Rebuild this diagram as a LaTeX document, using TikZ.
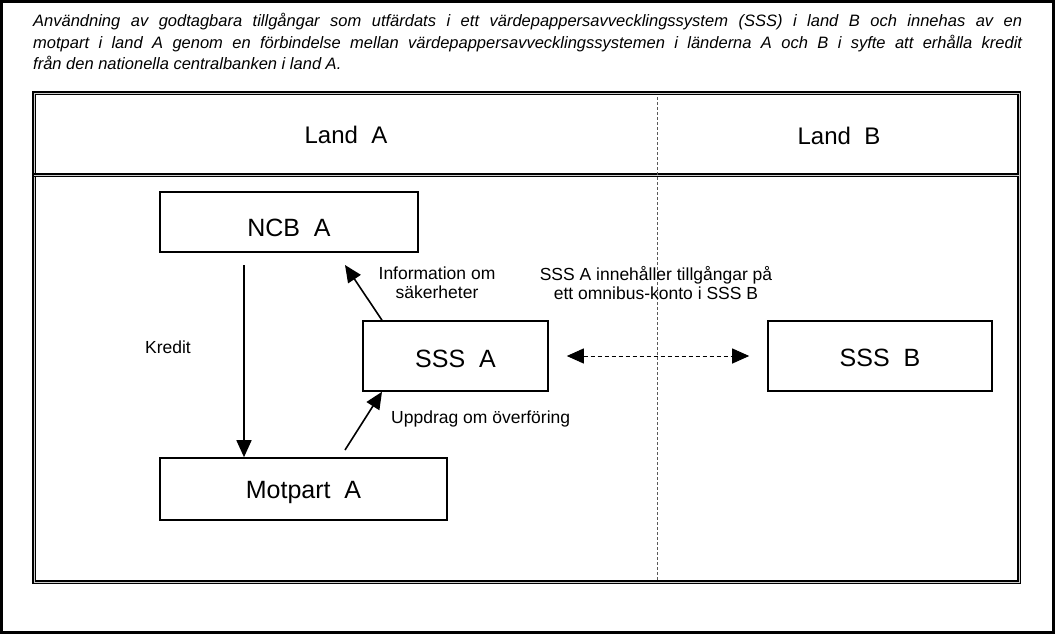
\documentclass[tikz,border=0pt]{standalone}
\usepackage{fontspec}
\setmainfont{Liberation Sans}
\usetikzlibrary{arrows.meta}
\begin{document}
\begin{tikzpicture}[x=1pt,y=-1pt,
  box/.style={draw=black,line width=1.6pt,inner sep=0pt},
  btxt/.style={inner sep=0pt,font=\fontsize{25}{28}\selectfont},
  lbl/.style={font=\fontsize{17.5}{20}\selectfont,inner sep=0pt,align=center},
  ttl/.style={anchor=base west,inner sep=0pt,font=\fontsize{16.5}{20}\selectfont\itshape},
  arr/.style={line width=1.6pt,-{Triangle[length=17pt,width=15pt]}},
  frame/.style={draw=black,double=gray!40,double distance=0.8pt,line width=1.3pt}]
\useasboundingbox (0,0) rectangle (1055,634);
\draw[line width=3pt] (1.5,1.5) rectangle (1053.5,632.5);
% title
\node[ttl] (t1) at (33,27)
  {\makebox[989pt][s]{Användning av godtagbara tillgångar som utfärdats i ett värdepappersavvecklingssystem (SSS) i land B och innehas av en}};
\node[ttl] (t2) at (33,48.5)
  {\makebox[989pt][s]{motpart i land A genom en förbindelse mellan värdepappersavvecklingssystemen i länderna A och B i syfte att erhålla kredit}};
\node[ttl] (t3) at (33,70)
  {från den nationella centralbanken i land A.};
% frame
\draw[frame] (34,93) rectangle (1019,582);
\draw[frame] (34,175) -- (1019,175);
\draw[line width=0.6pt,gray!70!black,dash pattern=on 3pt off 2pt] (657,97) -- (657,581);
\node[lbl,font=\fontsize{24}{26}\selectfont] (la) at (346,135) {Land~ A};
\node[lbl,font=\fontsize{24}{26}\selectfont] (lb) at (839,136) {Land~ B};
% boxes
\node[box,minimum width=258pt,minimum height=60pt] (ncb) at (289,222) {};
\node[box,minimum width=287pt,minimum height=62pt] (mot) at (303.5,489) {};
\node[box,minimum width=185pt,minimum height=70pt] (sssa) at (455.5,356) {};
\node[box,minimum width=224pt,minimum height=70pt] (sssb) at (880,356) {};
\node[btxt] (ncbt) at (289,228) {NCB~ A};
\node[btxt] (mott) at (303.5,492) {Motpart~ A};
\node[btxt] (sssat) at (455.5,359) {SSS~ A};
\node[btxt] (sssbt) at (880,358) {SSS~ B};
% coordinates
\coordinate (k1) at (244,265);
\coordinate (i2) at (345,265);
\coordinate (u1) at (345,450);
\draw[arr] (k1) -- (k1 |- mot.north);
\draw[arr] (sssa.north -| 382,0) -- (i2);
\draw[arr] (u1) -- (sssa.south -| 382,0);
\draw[line width=1pt,dash pattern=on 4pt off 3pt,{Triangle[length=17pt,width=15pt]}-{Triangle[length=17pt,width=15pt]}] ([xshift=18pt]sssa.east) -- ([xshift=-18pt]sssb.west);
% labels
\node[lbl] (kred) at (168,347) {Kredit};
\node[lbl] (info) at (437,283) {Information om\\[-1pt]säkerheter};
\node[lbl,anchor=west] (upp) at (391,419) {Uppdrag om överföring};
\node[lbl] (omn) at (656,283) {SSS A innehåller tillgångar på\\[-1pt]ett omnibus-konto i SSS B};
\end{tikzpicture}
\end{document}
